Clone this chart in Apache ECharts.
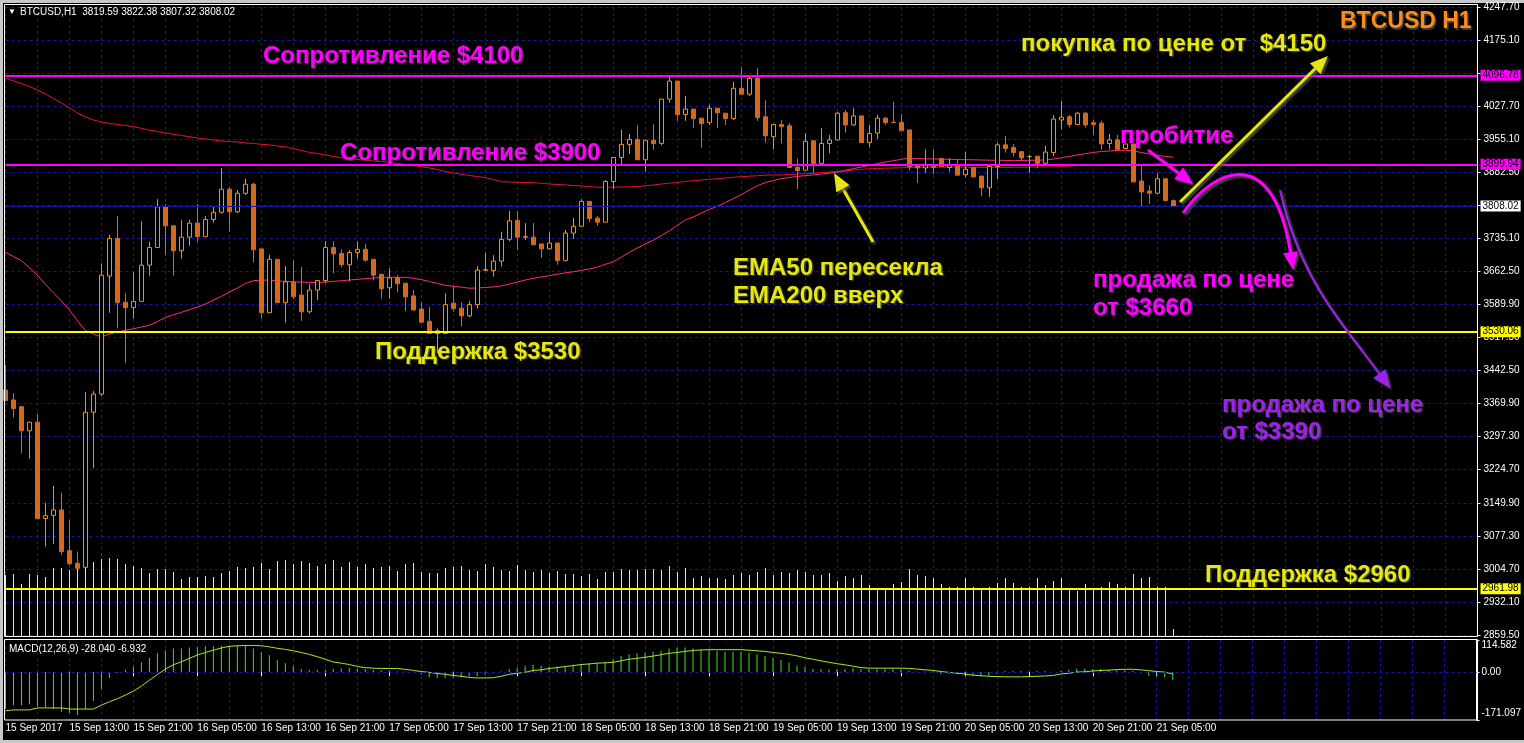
<!DOCTYPE html>
<html><head><meta charset="utf-8">
<script src="https://cdn.jsdelivr.net/npm/echarts@6/dist/echarts.min.js"></script>
<style>html,body{margin:0;padding:0;background:#000;overflow:hidden}#c{width:1524px;height:743px}</style>
</head><body><div id="c"></div>
<script>
// ---------------- DATA ----------------
const timeTickLabels = ['15 Sep 2017','15 Sep 13:00','15 Sep 21:00','16 Sep 05:00','16 Sep 13:00','16 Sep 21:00','17 Sep 05:00','17 Sep 13:00','17 Sep 21:00','18 Sep 05:00','18 Sep 13:00','18 Sep 21:00','19 Sep 05:00','19 Sep 13:00','19 Sep 21:00','20 Sep 05:00','20 Sep 13:00','20 Sep 21:00','21 Sep 05:00'];
const priceTickLabels = ['2859.50','2932.10','3004.70','3077.30','3149.90','3224.70','3297.30','3369.90','3442.50','3517.30','3589.90','3662.50','3735.10','','3882.50','3955.10','4027.70','','4175.10','4247.70'];
const macdTickValues = [114.582, 0, -171.097];
const macdTickLabels = ['114.582','0.00','-171.097'];

const opens = [3401,3379,3364,3311,3330,3117,3124,3136,3046,3018,3009,3352,3392,3653,3736,3595,3583,3597,3677,3716,3806,3764,3709,3739,3770,3740,3778,3794,3845,3795,3836,3856,3713,3572,3690,3594,3640,3611,3574,3622,3643,3716,3703,3678,3705,3712,3690,3657,3627,3649,3637,3609,3580,3553,3526,3526,3593,3582,3565,3590,3666,3665,3686,3734,3776,3739,3739,3724,3713,3726,3687,3748,3763,3818,3781,3772,3862,3915,3944,3955,3910,3953,3946,4044,4084,4010,4022,4002,3992,4024,4013,4001,4068,4055,4090,4005,3961,3988,3985,3893,3887,3952,3902,3946,3954,4014,3987,4007,3948,3969,4002,3993,3993,3976,3896,3892,3895,3913,3893,3896,3877,3893,3874,3848,3895,3943,3937,3928,3917,3918,3902,3926,3998,4005,3988,4013,3992,3991,3946,3954,3935,3945,3863,3841,3836,3868,3819.59];
const highs = [3456,3394,3366,3330,3348,3152,3189,3174,3114,3044,3397,3399,3681,3744,3786,3615,3662,3774,3729,3823,3812,3764,3777,3777,3812,3786,3806,3892,3850,3843,3868,3859,3713,3700,3690,3675,3688,3673,3635,3643,3730,3730,3712,3710,3730,3724,3690,3657,3670,3655,3637,3622,3595,3585,3537,3615,3629,3595,3598,3675,3705,3699,3751,3797,3797,3770,3770,3724,3750,3726,3755,3781,3823,3818,3786,3865,3916,3977,3967,3986,3953,3988,4044,4094,4084,4051,4022,4002,4032,4024,4013,4082,4116,4094,4113,4041,3988,3998,3991,3913,3969,3952,3980,3965,4016,4020,4024,4007,3987,4009,4004,4038,4011,3976,3896,3933,3933,3913,3913,3910,3928,3893,3874,3896,3948,3963,3945,3928,3921,3918,3941,4009,4040,4009,4016,4016,3999,3996,3967,3965,3954,3945,3898,3854,3880,3869,3822.38];
const lows = [3377,3340,3261,3249,3116,3055,3061,3037,3014,3007,3009,3228,3388,3572,3537,3461,3559,3597,3654,3716,3700,3654,3691,3720,3729,3740,3771,3791,3751,3792,3832,3683,3559,3572,3594,3550,3602,3554,3570,3600,3638,3659,3672,3641,3691,3685,3643,3603,3603,3617,3576,3576,3549,3526,3482,3526,3574,3542,3562,3581,3664,3652,3674,3730,3710,3733,3722,3693,3711,3678,3687,3735,3763,3772,3764,3772,3845,3896,3923,3910,3884,3932,3942,4036,3996,3996,3981,3937,3987,3980,3987,3998,4054,4051,3996,3948,3933,3946,3893,3845,3887,3880,3902,3924,3953,3970,3985,3948,3938,3956,3987,3992,3974,3887,3859,3881,3878,3895,3884,3876,3871,3872,3830,3828,3867,3926,3917,3909,3881,3891,3896,3918,3977,3981,3988,3981,3965,3932,3933,3930,3933,3861,3806,3812,3834,3819,3807.32];
const closes = [3377.5,3360,3311,3330,3116.6,3123,3136,3044,3017,3007,3352,3392,3655,3736,3594,3583,3597,3677,3716,3806,3764,3709,3739,3770,3740,3778,3794,3845,3795,3836,3856,3711,3572,3690,3594,3640,3607,3574,3622,3643,3716,3702,3678,3705,3712,3688,3655,3625,3649,3636,3607,3578,3551,3526,3532,3590,3581,3565,3590,3666,3667,3686,3734,3775,3739,3740,3722,3713,3726,3687,3748,3763,3818,3780,3772,3862,3915,3944,3955,3910,3953,3946,4044,4084,4010,4022,4001,3990,4024,4014,4001,4068,4055,4090,4003,3963,3988,3983,3893,3886,3951,3902,3946,3954,4013,3987,4007,3948,3968,4002,3992,3992,3974,3895,3892,3898,3893,3895,3898,3876,3889,3872,3848,3895,3943,3935,3926,3914,3917.5,3902,3927,4000,4004,3988,4013,3987,3988,3945,3954,3933,3945,3861,3839,3836,3868,3819.59,3808.02];

const ema200 = [4090.1,4084.2,4078.6,4072.0,4064.3,4055.4,4045.5,4035.5,4024.5,4013.4,
4004.6,3997.9,3993.5,3990.2,3988.0,3985.8,3983.1,3979.6,3975.8,3972.5,
3969.2,3966.3,3963.7,3961.0,3958.1,3955.9,3953.7,3951.5,3950.4,3949.3,
3947.1,3946.0,3944.2,3942.7,3940.5,3938.3,3934.5,3930.5,3926.1,3923.9,
3920.6,3917.3,3914.4,3912.4,3910.6,3908.9,3907.3,3906.0,3904.0,3901.8,
3899.6,3897.4,3894.5,3891.9,3888.5,3883.7,3880.8,3877.9,3875.2,3873.0,
3870.4,3866.4,3861.6,3860.9,3860.2,3859.8,3859.3,3858.0,3856.5,3855.4,
3854.3,3853.2,3852.0,3850.5,3849.4,3849.2,3849.4,3849.8,3850.3,3850.9,
3852.5,3854.3,3856.5,3858.2,3859.8,3862.0,3863.8,3865.3,3866.9,3868.2,
3869.7,3871.3,3872.6,3873.7,3874.8,3875.9,3876.4,3876.4,3877.5,3878.6,
3879.2,3880.1,3881.5,3883.0,3884.1,3885.2,3887.4,3889.0,3890.1,3890.7,
3891.4,3891.8,3892.3,3892.9,3893.4,3893.6,3893.5,3893.8,3893.7,3893.9,
3893.6,3893.4,3893.2,3893.3,3893.1,3893.2,3893.4,3893.5,3893.6,3893.8,
3894.0,3894.1,3895.2,3896.3,3897.4,3897.8,3898.5,3898.9,3899.1,3899.4,
3899.6,3899.8,3900.0,3900.2,3900.5,3900.7,3900.7];
const ema50 = [3705.5,3696.2,3686.9,3670.8,3654.6,3634.3,3615.5,3597.9,3578.0,3553.6,
3532.2,3524.9,3518.3,3524.9,3529.3,3533.1,3536.6,3540.4,3544.3,3552.5,
3561.4,3567.6,3572.9,3578.6,3584.6,3591.2,3600.1,3608.2,3617.7,3626.6,
3636.5,3642.9,3643.8,3644.3,3642.1,3641.2,3640.3,3639.6,3638.9,3638.3,
3639.8,3641.2,3642.5,3644.3,3645.6,3647.1,3648.7,3650.0,3650.2,3650.2,
3650.2,3648.0,3644.9,3640.9,3636.5,3632.5,3630.3,3628.3,3626.1,3626.6,
3627.7,3628.8,3631.4,3635.4,3639.8,3644.3,3648.0,3650.9,3654.0,3657.1,
3660.0,3662.6,3665.5,3668.6,3673.0,3679.0,3684.7,3695.1,3705.5,3715.0,
3723.8,3732.7,3742.6,3753.2,3765.0,3776.9,3783.9,3792.4,3800.1,3807.4,
3815.6,3824.4,3833.3,3843.2,3852.9,3859.8,3864.2,3868.4,3870.8,3873.3,
3875.0,3876.4,3878.6,3880.3,3883.0,3886.8,3890.5,3894.0,3897.8,3901.6,
3905.1,3908.0,3911.1,3913.3,3912.8,3912.2,3911.7,3911.3,3911.1,3910.6,
3910.2,3910.0,3909.5,3909.1,3908.9,3908.5,3908.0,3908.5,3908.9,3909.1,
3909.5,3911.7,3914.6,3917.5,3920.6,3923.5,3926.3,3928.3,3929.4,3930.7,
3931.2,3929.4,3926.1,3922.8,3919.5,3917.3,3915.5];

const volumes = [61,62,52,62,61,59,68,68,66,73,77,74,77,78,77,72,70,68,63,67,67,64,57,59,59,60,59,63,65,69,68,69,73,67,75,76,72,75,73,70,72,76,69,74,69,72,68,69,70,65,72,73,64,63,63,68,69,70,66,65,72,69,66,65,71,66,64,66,63,65,62,62,60,62,57,64,64,67,66,66,67,67,66,70,64,68,58,60,58,58,57,61,63,61,64,68,61,64,63,66,64,61,61,63,55,60,58,61,51,46,46,52,54,67,61,60,58,52,49,49,58,49,47,49,53,58,53,49,49,58,51,55,58,47,45,52,47,49,54,52,49,62,58,59,49,49,7];

const macdMain = [-132,-118,-118,-115,-123,-126,-132,-142,-146,-153,-132,-103,-60,-21,-2,8,20,35,50,67,78,84,84,88,90,92,92,94,94,94,94,84,71,60,43,32,22,11,8,8,8,11,13,15,13,11,8,7,5,2,2,0.5,-9,-18,-21,-21,-21,-19,-15,-15,-9,-4,2,11,16,22,26,22,18,20,22,26,28,32,32,37,46,57,64,67,69,73,76,84,88,88,84,81,78,75,73,73,73,69,64,57,50,43,34,22,18,12,11,8,11,11,14,11,11,11,11,13,11,6,2,2,2,-7,-7,-7,-9,-13,-15,-13,-6,4,4,4,2,4,4,1,4,8,12,12,11,11,8,7,6,4,-4,-13,-15,-18,-28];
const macdSignal = [-138,-135,-135,-135,-128,-128,-128,-128,-132,-132,-132,-132,-118,-106,-95,-82,-68,-50,-29,-9,11,26,37,49,61,70,78,86,92,94,95,95,94,90,85,81,76,70,63,55,46,36,32,27,20,16,14,13,13,13,10,6,2,-1,-5,-8,-12,-15,-19,-21,-21,-20,-15,-8,-4,-1,6,8,13,16,20,23,27,29,32,33,35,40,46,49,53,57,62,67,70,74,77,79,80,80,80,80,80,78,76,74,70,67,63,58,51,46,40,35,30,26,21,16,14,14,14,14,14,13,11,8,6,2,-1,-4,-7,-11,-13,-15,-16,-17,-17,-17,-16,-15,-14,-12,-7,-4,0,1,4,6,7,9,10,10,8,5,2,0,-7];

const levels = [
  {value: 4096.78, kind: 'res'},
  {value: 3899.94, kind: 'res'},
  {value: 3808.02, kind: 'bid'},
  {value: 3530.06, kind: 'sup'},
  {value: 2961.98, kind: 'sup'}
];

// hourly categories: 147 real bars + empty space to the right (chart shift)
const totalSlots = 185;
const categories = [];
for (let i = 0; i < totalSlots; i++) {
  const d = new Date(Date.UTC(2017, 8, 15, 5) + i * 3600000);
  categories.push(d.getUTCDate() + ' Sep ' + String(d.getUTCHours()).padStart(2, '0') + ':00');
}

// ---------------- STYLE ----------------
const GRIDC = '#1414a8';
const FONT = '"Liberation Sans", Arial, sans-serif';
const SFONT = FONT;
const SF = 10;
const YEL = '#E6E612', MAG = '#FF00FF', PUR = '#A020F0';
const L = 5.5, W = 1472;

const candleData = opens.map((o, i) => [o, closes[i], lows[i], highs[i]]);
const levelColor = {res: MAG, sup: '#FFFF00', bid: GRIDC};

const chart = echarts.init(document.getElementById('c'), null, {renderer: 'canvas'});

const lineShadow = {shadowColor: 'rgba(90,90,90,0.8)', shadowOffsetX: 2, shadowOffsetY: 2, shadowBlur: 2};
function head(x, y, a, len, wid, color) {
  const bx = x - len * Math.cos(a), by = y - len * Math.sin(a);
  const px = -Math.sin(a) * wid / 2, py = Math.cos(a) * wid / 2;
  return {type: 'polygon', z: 100, shape: {points: [[x, y], [bx + px, by + py], [bx - px, by - py]]}, style: Object.assign({fill: color}, lineShadow)};
}
function arrow(x1, y1, x2, y2, color, w) {
  const a = Math.atan2(y2 - y1, x2 - x1);
  return [
    {type: 'line', z: 100, shape: {x1, y1, x2: x2 - 12 * Math.cos(a), y2: y2 - 12 * Math.sin(a)}, style: Object.assign({stroke: color, lineWidth: w}, lineShadow)},
    head(x2, y2, a, 18, 15, color)
  ];
}
function curve(p0, c1, c2, p3, color, w) {
  const a = Math.atan2(p3[1] - c2[1], p3[0] - c2[0]);
  return [
    {type: 'bezierCurve', z: 100, shape: {x1: p0[0], y1: p0[1], cpx1: c1[0], cpy1: c1[1], cpx2: c2[0], cpy2: c2[1], x2: p3[0] - 10 * Math.cos(a), y2: p3[1] - 10 * Math.sin(a)}, style: Object.assign({stroke: color, lineWidth: w, fill: null}, lineShadow)},
    head(p3[0], p3[1], a, 18, 15, color)
  ];
}
function txt(t, x, y, color, size) {
  return {type: 'text', z: 110, style: {text: t, x, y, fill: color, font: 'bold ' + (size || 24) + 'px ' + FONT, textVerticalAlign: 'middle',
    textShadowColor: 'rgba(70,70,70,0.9)', textShadowOffsetX: 1.5, textShadowOffsetY: 1.5, textShadowBlur: 1}};
}

const graphics = [
  // window frame
  {type: 'rect', z: 0, shape: {x: 0, y: 0, width: 1524, height: 3}, style: {fill: '#c8c8c8'}},
  {type: 'rect', z: 0, shape: {x: 0, y: 0, width: 3, height: 743}, style: {fill: '#c8c8c8'}},
  {type: 'rect', z: 0, shape: {x: 0, y: 740, width: 1524, height: 3}, style: {fill: '#c8c8c8'}},
  {type: 'rect', z: 50, shape: {x: 4.5, y: 4.5, width: 1473, height: 632}, style: {stroke: '#ffffff', fill: null, lineWidth: 1}},
  {type: 'rect', z: 50, shape: {x: 4.5, y: 639.5, width: 1473, height: 80.5}, style: {stroke: '#ffffff', fill: null, lineWidth: 1}},
  {type: 'text', z: 110, style: {text: '▼', x: 8, y: 12, fill: '#fff', font: '8px ' + FONT, textVerticalAlign: 'middle'}},
  {type: 'text', z: 110, style: {text: 'BTCUSD,H1  3819.59 3822.38 3807.32 3808.02', x: 20, y: 12, fill: '#fff', font: SF + 'px ' + SFONT, textVerticalAlign: 'middle'}},
  {type: 'text', z: 110, style: {text: 'MACD(12,26,9) -28.040 -6.932', x: 9, y: 649, fill: '#fff', font: SF + 'px ' + SFONT, textVerticalAlign: 'middle'}},
  txt('Сопротивление $4100', 263, 56, MAG),
  txt('Сопротивление $3900', 340, 153, MAG),
  txt('EMA50 пересекла', 733, 268, YEL),
  txt('EMA200 вверх', 733, 296, YEL),
  txt('Поддержка $3530', 375, 352, YEL),
  txt('Поддержка $2960', 1205, 575, YEL),
  txt('покупка по цене от  $4150', 1021, 44, YEL),
  txt('пробитие', 1120, 136, MAG),
  txt('продажа по цене', 1093, 280, MAG),
  txt('от $3660', 1093, 308, MAG),
  txt('продажа по цене', 1222, 405, PUR),
  txt('от $3390', 1222, 432, PUR),
  txt('BTCUSD H1', 1340, 22, '#FF8C1A', 23),
  ...arrow(873, 242, 834, 173, YEL, 3),
  ...arrow(1180, 202, 1328, 56, YEL, 3),
  ...arrow(1148, 150, 1193, 184, MAG, 3),
  ...curve([1183, 213], [1215, 168], [1275, 140], [1293, 270], MAG, 3),
  ...curve([1280, 190], [1300, 280], [1340, 320], [1390, 388], PUR, 2)
];

const xBase = {
  type: 'category', data: categories, boundaryGap: false,
  axisLine: {show: false}, axisTick: {show: false}, axisLabel: {show: false},
  splitLine: {show: true, interval: (i) => i % 4 === 0, lineStyle: {color: GRIDC, type: [3, 3], width: 1}}
};

chart.setOption({
  animation: false,
  backgroundColor: '#000',
  grid: [
    {left: L, width: W, top: 7, height: 628},
    {left: L, width: W, top: 536, height: 100},
    {left: L, width: W, top: 640, height: 80}
  ],
  xAxis: [
    Object.assign({}, xBase, {gridIndex: 0}),
    Object.assign({}, xBase, {gridIndex: 1, splitLine: {show: false}}),
    Object.assign({}, xBase, {
      gridIndex: 2,
      axisLine: {show: false},
      axisTick: {show: true, interval: (i) => i % 8 === 0 && i / 8 < timeTickLabels.length, length: 4, lineStyle: {color: '#fff'}},
      axisLabel: {show: true, hideOverlap: false, interval: (i) => i % 8 === 0 && i / 8 < timeTickLabels.length, formatter: (v, i) => timeTickLabels[i / 8] || '', align: 'left', color: '#fff', fontSize: SF, fontFamily: SFONT, margin: 3}
    })
  ],
  yAxis: [
    {gridIndex: 0, type: 'value', min: 2859.5, max: 4247.7, show: false, position: 'right'},
    {gridIndex: 0, type: 'value', min: 0, max: priceTickLabels.length - 1, interval: 1, position: 'right',
      axisLine: {show: true, lineStyle: {color: '#fff'}}, axisTick: {show: true, length: 3, lineStyle: {color: '#fff'}},
      axisLabel: {color: '#fff', fontSize: SF, fontFamily: SFONT, margin: 6, formatter: (v) => priceTickLabels[Math.round(v)]},
      splitLine: {show: true, lineStyle: {color: GRIDC, type: [3, 3]}}},
    {gridIndex: 1, type: 'value', min: 0, max: 100, show: false},
    {gridIndex: 2, type: 'value', min: -171.097, max: 114.582, position: 'right',
      axisLine: {show: true, lineStyle: {color: '#fff'}},
      axisTick: {show: true, customValues: macdTickValues, length: 3, lineStyle: {color: '#fff'}},
      axisLabel: {show: true, customValues: macdTickValues, margin: 5,
        formatter: (v) => {
          const k = macdTickValues.findIndex(m => Math.abs(m - v) < 1e-6);
          const s = macdTickLabels[k];
          return k === 0 ? '{t|' + s + '}' : (k === 2 ? '{b|' + s + '}' : '{m|' + s + '}');
        },
        rich: {
          t: {color: '#fff', fontSize: SF, fontFamily: SFONT, padding: [11, 0, 0, 0]},
          m: {color: '#fff', fontSize: SF, fontFamily: SFONT},
          b: {color: '#fff', fontSize: SF, fontFamily: SFONT, padding: [0, 0, 13, 0]}
        }},
      splitLine: {show: false}}
  ],
  series: [
    {type: 'bar', name: 'Volume', xAxisIndex: 1, yAxisIndex: 2, data: volumes, barWidth: 1, itemStyle: {color: '#FFFF00'}, z: 1},
    {type: 'line', name: 'EMA200', xAxisIndex: 0, yAxisIndex: 0, data: ema200, symbol: 'none', lineStyle: {color: '#E8122C', width: 1}, z: 2},
    {type: 'line', name: 'EMA50', xAxisIndex: 0, yAxisIndex: 0, data: ema50, symbol: 'none', lineStyle: {color: '#FF2A7A', width: 1}, z: 2},
    {type: 'candlestick', name: 'BTCUSD', xAxisIndex: 0, yAxisIndex: 0, data: candleData, barWidth: 5, clip: true, z: 3,
      itemStyle: {color: '#000', color0: '#D2691E', borderColor: '#FF8C00', borderColor0: '#D2691E', borderWidth: 1},
      markLine: {
        symbol: ['none', 'none'], silent: true, animation: false,
        data: levels.map(l => ({
          yAxis: l.value,
          lineStyle: {color: levelColor[l.kind], width: l.kind === 'bid' ? 1 : 2, type: 'solid'},
          label: {show: true, position: 'end', distance: 3, formatter: l.value.toFixed(2),
            backgroundColor: l.kind === 'bid' ? '#fff' : levelColor[l.kind], color: '#000',
            fontSize: SF, fontFamily: SFONT, padding: [1, 2, 0, 2]}
        }))
      }},
    {type: 'bar', name: 'MACD', xAxisIndex: 2, yAxisIndex: 3, data: macdMain, barWidth: 1, itemStyle: {color: '#33E61A'},
      markLine: {symbol: ['none', 'none'], silent: true, label: {show: false}, data: [{yAxis: 0}], lineStyle: {color: GRIDC, type: [3, 3], width: 1}}},
    {type: 'line', name: 'Signal', xAxisIndex: 2, yAxisIndex: 3, data: macdSignal, symbol: 'none', lineStyle: {color: '#A6E830', width: 1}}
  ],
  graphic: graphics
});
</script>
</body></html>
